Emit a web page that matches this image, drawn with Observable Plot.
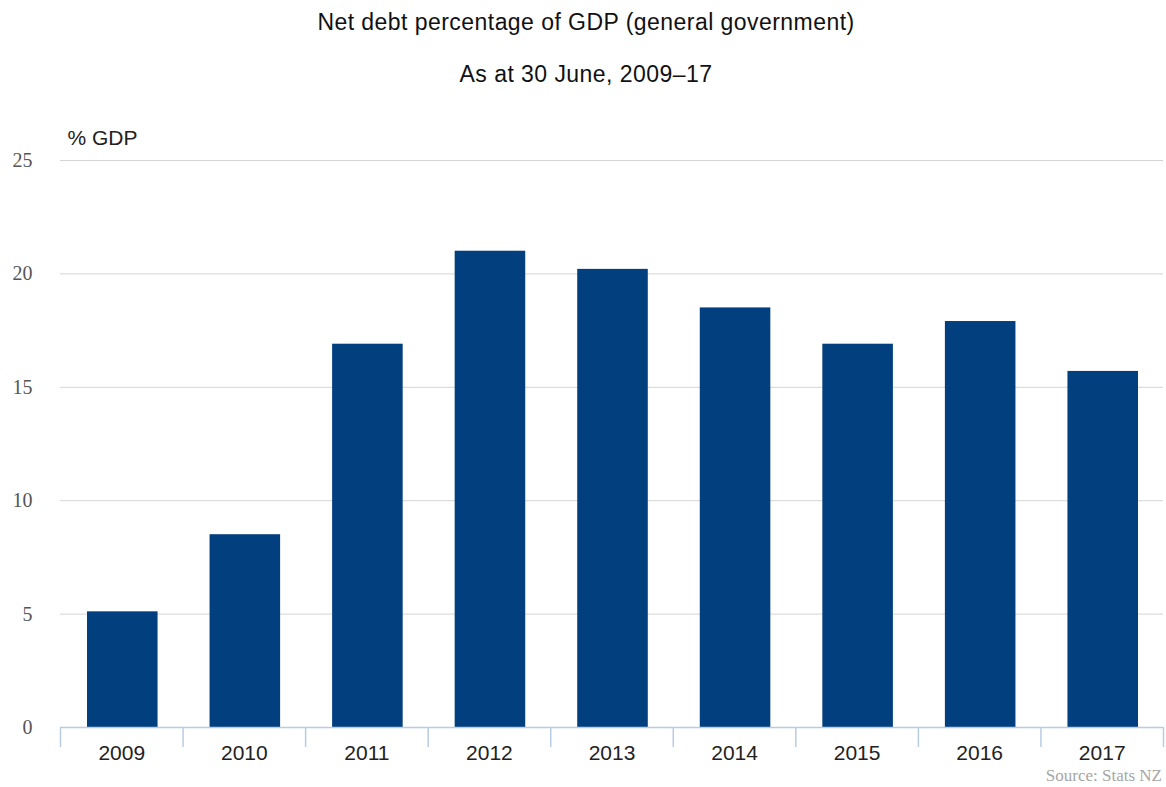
<!DOCTYPE html>
<html>
<head>
<meta charset="utf-8">
<script src="https://cdn.jsdelivr.net/npm/d3@7"></script>
<script src="https://cdn.jsdelivr.net/npm/@observablehq/plot@0.6"></script>
<style>
  body { margin: 0; background: #fff; font-family: "Liberation Sans", Arial, sans-serif; }
  #wrap { position: relative; width: 1166px; height: 787px; overflow: hidden; }
  .title { position: absolute; left: 0; width: 1172px; text-align: center; font-size: 23px; letter-spacing: 0.45px; color: #111; line-height: 26px; }
  #t1 { top: 9px; }
  #t2 { top: 61px; }
  #chart { position: absolute; left: 0; top: 100px; }
  #source { position: absolute; right: 4px; top: 766px; font-family: "Liberation Serif", "Times New Roman", serif; font-size: 17px; line-height: 20px; color: #a6a6a6; }
</style>
</head>
<body>
<div id="wrap">
  <div class="title" id="t1">Net debt percentage of GDP (general government)</div>
  <div class="title" id="t2">As at 30 June, 2009–17</div>
  <div id="chart"></div>
  <div id="source">Source: Stats NZ</div>
</div>
<script>
const years = ["2009", "2010", "2011", "2012", "2013", "2014", "2015", "2016", "2017"];
const netDebt = [5.1, 8.5, 16.9, 21.0, 20.2, 18.5, 16.9, 17.9, 15.7];
const yTicks = [0, 5, 10, 15, 20, 25];
const yLabel = "% GDP";

const data = years.map((year, i) => ({ year, i, value: netDebt[i] }));
const n = years.length;
const boundaries = d3.range(n + 1);
const centers = d3.range(n).map(i => i + 0.5);

const chart = Plot.plot({
  width: 1166,
  height: 667,
  marginLeft: 60,
  marginRight: 3,
  marginTop: 60,
  marginBottom: 40,
  x: { type: "linear", domain: [0, n], axis: null },
  y: { domain: [0, 25], axis: null },
  marks: [
    Plot.gridY(yTicks.filter(d => d > 0), { stroke: "#d4d4d4", strokeOpacity: 1, x1: 0, x2: n, strokeWidth: 1 }),
    Plot.axisY(yTicks, {
      tickSize: 0, tickPadding: 28, label: null,
      fontFamily: "Liberation Serif, Times New Roman, serif", fontSize: 20, fill: "#555"
    }),
    Plot.rectY(data, {
      x1: "i", x2: d => d.i + 1, y: "value",
      fill: "#013f7e", insetLeft: 27, insetRight: 25
    }),
    Plot.ruleY([0], { stroke: "#b8cce4", strokeWidth: 1.5 }),
    Plot.axisX(boundaries, { tickSize: 20, tickFormat: () => "", label: null, stroke: "#b8cce4", strokeWidth: 1.5 }),
    Plot.axisX(centers, {
      tickSize: 0, tickPadding: 18, label: null,
      tickFormat: d => years[Math.floor(d)],
      fontFamily: "Liberation Sans, Arial, sans-serif", fontSize: 21, fill: "#222"
    }),
    Plot.text([yLabel], {
      frameAnchor: "top-left", dx: 7, dy: -30, text: d => d, textAnchor: "start",
      fontFamily: "Liberation Sans, Arial, sans-serif", fontSize: 21, fill: "#222"
    })
  ]
});
document.getElementById("chart").appendChild(chart);
</script>
</body>
</html>
